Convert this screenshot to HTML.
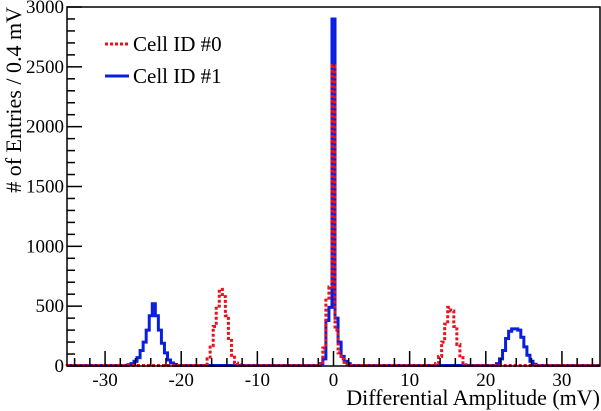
<!DOCTYPE html>
<html><head><meta charset="utf-8"><style>
html,body{margin:0;padding:0;background:#fff;}
svg{display:block;}
svg text{font-family:"Liberation Serif","DejaVu Serif",serif;}
</style></head><body>
<svg id="chart" width="601" height="411" viewBox="0 0 601 411" xmlns="http://www.w3.org/2000/svg">
<g id="series"></g>
<g id="axes"></g>
<g>
 <line x1="105" y1="44" x2="129" y2="44" stroke="#e8121c" stroke-width="3" stroke-dasharray="3,2"/>
 <text x="133" y="51" font-size="21">Cell ID #0</text>
 <line x1="105" y1="76" x2="129" y2="76" stroke="#0a1ee0" stroke-width="3"/>
 <text x="133" y="83" font-size="21">Cell ID #1</text>
</g>
<text transform="translate(21,7) rotate(-90)" text-anchor="end" font-size="22"># of Entries / 0.4 mV</text>
<text x="600" y="405" text-anchor="end" font-size="22">Differential Amplitude (mV)</text>
</svg>
<script>
// Data: bin width 0.4 mV, bin centers at -34.8 + 0.4*i; segments give start center (mV) and counts
const xMin = -35, xMax = 35, binW = 0.4;
const yTicks = [0, 500, 1000, 1500, 2000, 2500, 3000];
const xTicks = [-30, -20, -10, 0, 10, 20, 30];
const cell0Starts = [-16.8, -1.6, 13.6];
const cell0Counts = [
  [15, 60, 170, 330, 500, 640, 580, 420, 230, 90, 25, 10],
  [30, 150, 550, 660, 2510, 300, 110, 60, 30, 15],
  [20, 80, 200, 350, 490, 460, 330, 180, 70, 25, 10]
];
const cell1Starts = [-26.8, -1.6, 21.6];
const cell1Counts = [
  [10, 20, 40, 70, 130, 200, 300, 420, 520, 420, 300, 190, 110, 50, 25, 12],
  [20, 60, 380, 490, 2900, 400, 200, 80, 40, 20],
  [20, 60, 130, 230, 290, 310, 310, 300, 240, 160, 90, 40, 15]
];
const baseline = 4;

const L = 67, R = 600, T = 7, B = 366, yMax = 3000;
const X = v => L + (v - xMin) / (xMax - xMin) * (R - L);
const Y = v => B - v / yMax * (B - T);
const NS = "http://www.w3.org/2000/svg";
function mk(tag, attrs, parent) {
  const e = document.createElementNS(NS, tag);
  for (const k in attrs) e.setAttribute(k, attrs[k]);
  parent.appendChild(e);
  return e;
}
function buildBins(starts, counts) {
  const n = Math.round((xMax - xMin) / binW);
  const bins = new Array(n).fill(baseline);
  starts.forEach((s, j) => {
    const i0 = Math.round((s - (xMin + binW / 2)) / binW);
    counts[j].forEach((c, k) => { if (i0 + k >= 0 && i0 + k < n) bins[i0 + k] = c; });
  });
  return bins;
}
function histPath(bins) {
  let d = "M" + X(xMin) + "," + Y(bins[0]);
  bins.forEach((c, i) => {
    const x0 = X(xMin + i * binW), x1 = X(xMin + (i + 1) * binW);
    d += " L" + x0.toFixed(2) + "," + Y(c).toFixed(2) + " L" + x1.toFixed(2) + "," + Y(c).toFixed(2);
  });
  return d;
}
const series = document.getElementById("series");
const p1 = mk("path", {d: histPath(buildBins(cell1Starts, cell1Counts)), fill: "none", stroke: "#0a1ee0", "stroke-width": 3}, series);


const p0 = mk("path", {d: histPath(buildBins(cell0Starts, cell0Counts)), fill: "none", stroke: "#e8121c", "stroke-width": 3, "stroke-dasharray": "3,2"}, series);



const axes = document.getElementById("axes");
const frame = mk("rect", {x: L, y: T, width: R - L, height: B - T, fill: "none", stroke: "#000", "stroke-width": 1.5}, axes);


for (let v = 0; v <= yMax; v += 100) {
  const major = v % 500 === 0;
  const t = mk("line", {x1: L, x2: L + (major ? 15 : 8), y1: Y(v), y2: Y(v), stroke: "#000", "stroke-width": 1.5}, axes);
  
  
}
yTicks.forEach(v => {
  const t = mk("text", {x: L - 3, y: Y(v) + 6, "text-anchor": "end", "font-size": 19}, axes);
  t.textContent = v;
  
  
});
for (let v = -34; v <= 34; v += 2) {
  const major = v % 10 === 0;
  const t = mk("line", {x1: X(v), x2: X(v), y1: B, y2: B - (major ? 15 : 8), stroke: "#000", "stroke-width": 1.5}, axes);
  
  
}
xTicks.forEach(v => {
  const t = mk("text", {x: X(v), y: 386, "text-anchor": "middle", "font-size": 19}, axes);
  t.textContent = v;
  
  
});
</script>
</body></html>
